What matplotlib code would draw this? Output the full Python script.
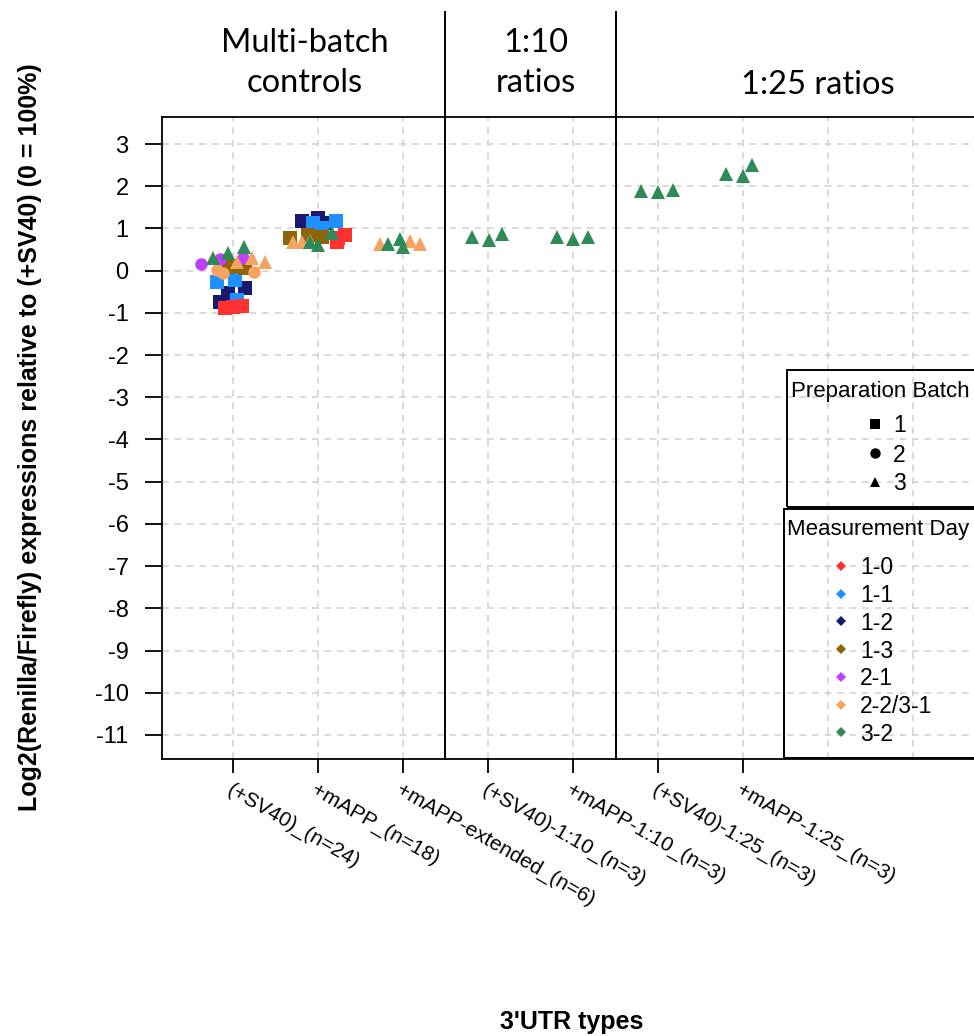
import numpy as np
import matplotlib.pyplot as plt
from matplotlib.lines import Line2D
from matplotlib.patches import Rectangle

plt.rcParams['font.family'] = ['Liberation Sans', 'DejaVu Sans']

# x 轴类别
categories = ["(+SV40)_(n=24)", "+mAPP_(n=18)", "+mAPP-extended_(n=6)",
              "(+SV40)-1:10_(n=3)", "+mAPP-1:10_(n=3)",
              "(+SV40)-1:25_(n=3)", "+mAPP-1:25_(n=3)"]

day_labels = ["1-0", "1-1", "1-2", "1-3", "2-1", "2-2/3-1", "3-2"]
day_colors = ["#FF3030", "#1E90FF", "#191970", "#8B6508",
              "#BF3EFF", "#F4A460", "#2E8B57"]
batch_labels = ["1", "2", "3"]
batch_markers = ["s", "o", "^"]

# 每个点: 类别(1开始), 水平抖动, 数值, 测量日, 批次
pt_cat = [1, 1, 1,  1, 1, 1,  1, 1, 1,  1, 1, 1,  1, 1, 1,  1, 1, 1,  1, 1, 1,  1, 1, 1,
          2, 2, 2,  2, 2, 2,  2, 2, 2,  2, 2, 2,  2, 2, 2,  2, 2, 2,
          3, 3, 3,  3, 3, 3,
          4, 4, 4,  5, 5, 5,  6, 6, 6,  7, 7, 7]
pt_jit = [-0.15, -0.06, 0.14,   -0.19, 0.02, 0.05,   -0.09, 0.0, 0.11,
          -0.06, 0.14, 0.07,    -0.38, -0.15, 0.12,  -0.19, -0.12, 0.25,
          0.05, 0.22, 0.38,     -0.24, -0.06, 0.13,
          -0.19, 0.0, 0.08,     -0.06, 0.21, 0.05,   0.24, 0.32, 0.22,
          -0.33, -0.12, 0.05,   -0.29, -0.19, -0.09, -0.09, 0.0, 0.16,
          -0.27, 0.08, 0.20,    -0.18, -0.04, 0.0,
          -0.19, 0.01, 0.16,    -0.19, 0.0, 0.18,    -0.20, 0.0, 0.18,
          -0.20, 0.0, 0.10]
pt_val = [-0.74, -0.54, -0.42,  -0.26, -0.22, -0.70,  -0.89, -0.86, -0.83,
          0.09, 0.06, 0.12,     0.15, 0.27, 0.29,     0.01, -0.06, -0.03,
          0.20, 0.30, 0.20,     0.30, 0.42, 0.55,
          1.17, 1.24, 1.12,     1.12, 1.17, 1.02,     0.77, 0.84, 0.68,
          0.77, 0.84, 0.80,     0.67, 0.67, 0.70,     0.68, 0.61, 0.90,
          0.62, 0.70, 0.62,     0.62, 0.75, 0.57,
          0.79, 0.73, 0.87,     0.79, 0.75, 0.79,     1.88, 1.86, 1.92,
          2.28, 2.25, 2.50]
pt_day = [2, 2, 2,  1, 1, 1,  0, 0, 0,  3, 3, 3,  4, 4, 4,  5, 5, 5,  5, 5, 5,  6, 6, 6,
          2, 2, 2,  1, 1, 1,  0, 0, 0,  3, 3, 3,  5, 5, 5,  6, 6, 6,
          5, 5, 5,  6, 6, 6,
          6, 6, 6,  6, 6, 6,  6, 6, 6,  6, 6, 6]
pt_batch = [0, 0, 0,  0, 0, 0,  0, 0, 0,  0, 0, 0,  1, 1, 1,  1, 1, 1,  2, 2, 2,  2, 2, 2,
            0, 0, 0,  0, 0, 0,  0, 0, 0,  0, 0, 0,  2, 2, 2,  2, 2, 2,
            2, 2, 2,  2, 2, 2,
            2, 2, 2,  2, 2, 2,  2, 2, 2,  2, 2, 2]

sections = ["Multi-batch\ncontrols", "1:10\nratios", "1:25 ratios"]

W, H = 974, 1036


def fx(px):
    return px / W


def fy(py):
    return 1 - py / H


fig = plt.figure(figsize=(W / 100, H / 100), dpi=100)
ax = fig.add_axes([fx(162), fy(759), fx(1021) - fx(162), fy(117) - fy(759)])
ax.set_xlim(0.165, 10.27)
ax.set_ylim(-11.57, 3.64)

# 网格
for gx in range(1, 10):
    ax.axvline(gx, color="#D3D3D3", lw=1.2, dashes=(4, 3.5), zorder=0)
for gy in range(-11, 4):
    ax.axhline(gy, color="#D3D3D3", lw=1.2, dashes=(4, 3.5), zorder=0)

# 数据点
x = np.array(pt_cat) + np.array(pt_jit)
y = np.array(pt_val)
sizes = {"s": 9.4, "o": 9.0, "^": 10.2}
for i in range(len(x)):
    m = batch_markers[pt_batch[i]]
    ax.plot(x[i], y[i], marker=m, ms=sizes[m], mew=0,
            color=day_colors[pt_day[i]], linestyle="none", zorder=3)

# 分隔线
for sx in [3.5, 5.5]:
    ax.axvline(sx, ymin=0, ymax=(759 - 12) / (759 - 117), color="black",
               lw=1.4, clip_on=False, zorder=4)

for s in ["left", "bottom", "top"]:
    ax.spines[s].set_linewidth(1.3)
ax.spines["right"].set_visible(False)

ax.set_yticks(range(-11, 4))
ax.set_yticklabels([str(v) for v in range(-11, 4)], fontsize=17)
ax.tick_params(axis="y", length=12, width=1.3, pad=12)
ax.set_xticks(range(1, len(categories) + 1))
ax.set_xticklabels(categories, fontsize=15, rotation=-30, ha="left",
                   va="top", rotation_mode="anchor")
ax.tick_params(axis="x", length=10, width=1.3, pad=5)

# 标题区
fig.text(fx(305), fy(63), sections[0], fontsize=23.5, family="Lato",
         ha="center", va="center", linespacing=1.4)
fig.text(fx(536), fy(63), sections[1], fontsize=23.5, family="Lato",
         ha="center", va="center", linespacing=1.4)
fig.text(fx(818), fy(85), sections[2], fontsize=23.5, family="Lato",
         ha="center", va="center")

fig.text(fx(30), fy(437), "Log2(Renilla/Firefly) expressions relative to (+SV40) (0 = 100%)",
         rotation=90, fontsize=18, fontweight="bold", ha="center", va="center")
fig.text(fx(572), fy(1022), "3'UTR types", fontsize=18, fontweight="bold",
         ha="center", va="center")

# 图例: 批次
fig.add_artist(Rectangle((fx(787), fy(507)), 0.5, fy(370) - fy(507),
                         transform=fig.transFigure, fill=False, lw=1.4,
                         edgecolor="black", clip_on=False))
fig.text(fx(791), fy(391), "Preparation Batch", fontsize=16, ha="left", va="center")
for k, lab in enumerate(batch_labels):
    yy = 424 + k * 29
    fig.add_artist(Line2D([fx(875)], [fy(yy)], marker=batch_markers[k], ms=7.5,
                          mew=0, color="black", transform=fig.transFigure))
    fig.text(fx(893), fy(yy + 2), lab, fontsize=16.5, ha="left", va="center")

# 图例: 测量日
fig.add_artist(Rectangle((fx(784), fy(758)), 0.5, fy(509) - fy(758),
                         transform=fig.transFigure, fill=False, lw=1.4,
                         edgecolor="black", clip_on=False))
fig.text(fx(787), fy(530), "Measurement Day", fontsize=16, ha="left", va="center")
for k, lab in enumerate(day_labels):
    yy = 566 + k * 27.7
    fig.add_artist(Line2D([fx(841)], [fy(yy)], marker="D", ms=5.5,
                          mew=0, color=day_colors[k], transform=fig.transFigure))
    fig.text(fx(860), fy(yy + 2), lab, fontsize=16.5, ha="left", va="center")

fig.savefig("out.png", dpi=100)
